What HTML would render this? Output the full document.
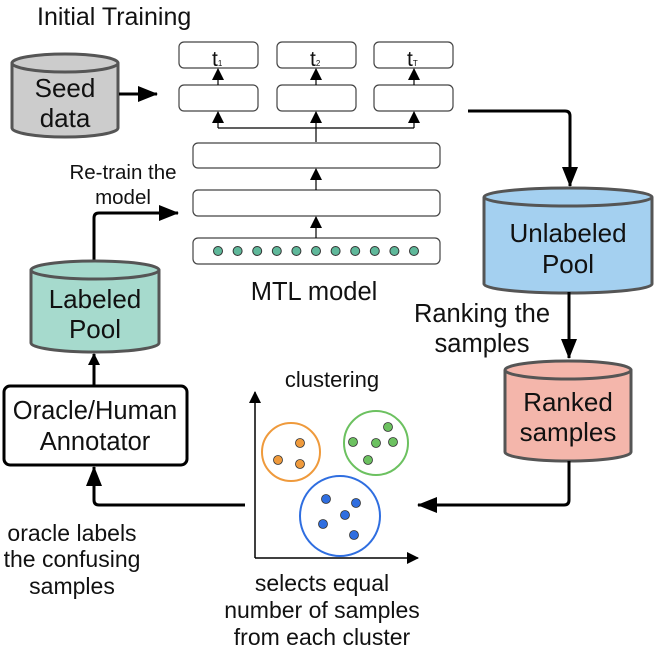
<!DOCTYPE html>
<html><head><style>body{margin:0;background:#fff}svg{display:block}text{font-family:"Liberation Sans",sans-serif;fill:#111}</style></head><body>
<svg width="655" height="655" viewBox="0 0 655 655" xmlns="http://www.w3.org/2000/svg">
<defs><marker id="a" markerWidth="12" markerHeight="12" refX="11" refY="6" orient="auto" markerUnits="userSpaceOnUse"><path d="M0,0 L12,6 L0,12 Z" fill="#000"/></marker>
<marker id="b" markerWidth="20" markerHeight="16" refX="19" refY="8" orient="auto" markerUnits="userSpaceOnUse"><path d="M0,0 L20,8 L0,16 Z" fill="#000"/></marker></defs>
<text x="37" y="25" font-size="25">Initial Training</text>
<path d="M12,63 L12,128 A53,9 0 0 0 118,128 L118,63" fill="#cccccc" stroke="#555" stroke-width="3"/>
<ellipse cx="65" cy="63" rx="53" ry="9" fill="#cccccc" stroke="#555" stroke-width="3"/>
<text x="65" y="97" font-size="26" text-anchor="middle">Seed</text>
<text x="65" y="127" font-size="26" text-anchor="middle">data</text>
<line x1="119" y1="94" x2="157" y2="94" stroke="#000" stroke-width="3" marker-end="url(#b)"/>
<g fill="#fff" stroke="#444" stroke-width="1.2">
<rect x="179" y="42" width="79" height="26" rx="5"/><rect x="277" y="42" width="79" height="26" rx="5"/><rect x="374" y="42" width="79" height="26" rx="5"/>
<rect x="179" y="85" width="79" height="26" rx="5"/><rect x="277" y="85" width="79" height="26" rx="5"/><rect x="374" y="85" width="79" height="26" rx="5"/>
<rect x="193" y="143" width="247" height="25" rx="5"/><rect x="193" y="190" width="247" height="26" rx="5"/><rect x="193" y="238" width="247" height="26" rx="5"/>
</g>
<text x="212" y="66" font-size="21">t<tspan font-size="8">1</tspan></text>
<text x="310" y="66" font-size="21">t<tspan font-size="8">2</tspan></text>
<text x="407" y="66" font-size="21">t<tspan font-size="8">T</tspan></text>
<g stroke="#000" stroke-width="1.2">
<line x1="218" y1="128" x2="414" y2="128"/><line x1="316" y1="142" x2="316" y2="128"/>
<line x1="218" y1="128" x2="218" y2="112" marker-end="url(#a)"/><line x1="316" y1="128" x2="316" y2="112" marker-end="url(#a)"/><line x1="414" y1="128" x2="414" y2="112" marker-end="url(#a)"/>
<line x1="218" y1="85" x2="218" y2="69" marker-end="url(#a)"/><line x1="316" y1="85" x2="316" y2="69" marker-end="url(#a)"/><line x1="414" y1="85" x2="414" y2="69" marker-end="url(#a)"/>
<line x1="316" y1="190" x2="316" y2="169" marker-end="url(#a)"/><line x1="316" y1="238" x2="316" y2="217" marker-end="url(#a)"/>
</g>
<g fill="#5fb89a" stroke="#333" stroke-width="1">
<circle cx="218" cy="251" r="4.5"/><circle cx="237.6" cy="251" r="4.5"/><circle cx="257.2" cy="251" r="4.5"/><circle cx="276.8" cy="251" r="4.5"/><circle cx="296.4" cy="251" r="4.5"/><circle cx="316" cy="251" r="4.5"/><circle cx="335.6" cy="251" r="4.5"/><circle cx="355.2" cy="251" r="4.5"/><circle cx="374.8" cy="251" r="4.5"/><circle cx="394.4" cy="251" r="4.5"/><circle cx="414" cy="251" r="4.5"/>
</g>
<text x="314" y="300" font-size="25.5" text-anchor="middle">MTL model</text>
<text x="123" y="179" font-size="20.5" text-anchor="middle">Re-train the</text>
<text x="123" y="204" font-size="20.5" text-anchor="middle">model</text>
<path d="M94,262 L94,218 Q94,213 99,213 L178,213" fill="none" stroke="#000" stroke-width="3" marker-end="url(#b)"/>
<path d="M31,270 L31,343 A64,9 0 0 0 159,343 L159,270" fill="#a6dacd" stroke="#555" stroke-width="3"/>
<ellipse cx="95" cy="270" rx="64" ry="9" fill="#a6dacd" stroke="#555" stroke-width="3"/>
<text x="95" y="308" font-size="26" text-anchor="middle">Labeled</text>
<text x="95" y="338" font-size="26" text-anchor="middle">Pool</text>
<line x1="94" y1="386" x2="94" y2="354" stroke="#000" stroke-width="3" marker-end="url(#a)"/>
<rect x="4" y="386" width="183" height="79" rx="6" fill="#fff" stroke="#000" stroke-width="3"/>
<text x="95" y="419" font-size="25.5" text-anchor="middle">Oracle/Human</text>
<text x="95" y="450" font-size="25.5" text-anchor="middle">Annotator</text>
<path d="M468,111 L565,111 Q570,111 570,116 L570,186" fill="none" stroke="#000" stroke-width="3" marker-end="url(#b)"/>
<path d="M484,197 L484,284 A84,9 0 0 0 652,284 L652,197" fill="#a4d0f0" stroke="#555" stroke-width="3"/>
<ellipse cx="568" cy="197" rx="84" ry="9" fill="#a4d0f0" stroke="#555" stroke-width="3"/>
<text x="568" y="242" font-size="26" text-anchor="middle">Unlabeled</text>
<text x="568" y="273" font-size="26" text-anchor="middle">Pool</text>
<line x1="569" y1="292" x2="569" y2="358" stroke="#000" stroke-width="3" marker-end="url(#b)"/>
<text x="482" y="322" font-size="25.5" text-anchor="middle">Ranking the</text>
<text x="482" y="352" font-size="25.5" text-anchor="middle">samples</text>
<path d="M505,370 L505,452 A63,9 0 0 0 631,452 L631,370" fill="#f4b6ab" stroke="#555" stroke-width="3"/>
<ellipse cx="568" cy="370" rx="63" ry="9" fill="#f4b6ab" stroke="#555" stroke-width="3"/>
<text x="568" y="411" font-size="26" text-anchor="middle">Ranked</text>
<text x="568" y="441" font-size="26" text-anchor="middle">samples</text>
<path d="M569,461 L569,500 Q569,505 564,505 L418,505" fill="none" stroke="#000" stroke-width="3" marker-end="url(#b)"/>
<line x1="255" y1="558" x2="255" y2="392" stroke="#000" stroke-width="1.5" marker-end="url(#a)"/>
<line x1="255" y1="558" x2="418" y2="558" stroke="#000" stroke-width="1.5" marker-end="url(#a)"/>
<text x="332" y="387" font-size="22" text-anchor="middle">clustering</text>
<circle cx="291" cy="452" r="29" fill="none" stroke="#ef9a3c" stroke-width="2"/>
<circle cx="376" cy="443" r="32" fill="none" stroke="#6cc160" stroke-width="2"/>
<circle cx="340" cy="516" r="40" fill="none" stroke="#2f6ee0" stroke-width="2"/>
<g fill="#ef9a3c" stroke="#333" stroke-width="0.8"><circle cx="300" cy="443" r="4.5"/><circle cx="278" cy="460" r="4.5"/><circle cx="300" cy="464" r="4.5"/></g>
<g fill="#6cc160" stroke="#333" stroke-width="0.8"><circle cx="388" cy="427" r="4.5"/><circle cx="353" cy="442" r="4.5"/><circle cx="376" cy="443" r="4.5"/><circle cx="393" cy="442" r="4.5"/><circle cx="368" cy="460" r="4.5"/></g>
<g fill="#2f6ee0" stroke="#333" stroke-width="0.8"><circle cx="326" cy="499" r="4.5"/><circle cx="356" cy="503" r="4.5"/><circle cx="345" cy="515" r="4.5"/><circle cx="323" cy="524" r="4.5"/><circle cx="354" cy="535" r="4.5"/></g>
<path d="M245,505 L99,505 Q94,505 94,500 L94,467" fill="none" stroke="#000" stroke-width="3" marker-end="url(#b)"/>
<text x="72" y="541" font-size="23" text-anchor="middle">oracle labels</text>
<text x="72" y="567" font-size="23" text-anchor="middle">the confusing</text>
<text x="72" y="594" font-size="23" text-anchor="middle">samples</text>
<text x="322" y="591" font-size="23" text-anchor="middle">selects equal</text>
<text x="322" y="618" font-size="23" text-anchor="middle">number of samples</text>
<text x="322" y="645" font-size="23" text-anchor="middle">from each cluster</text>
</svg>
</body></html>
